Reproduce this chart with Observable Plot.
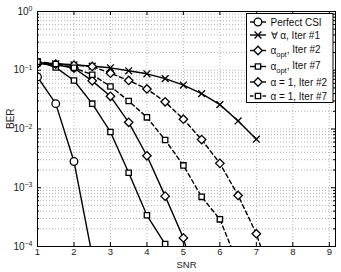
<!DOCTYPE html>
<html><head><meta charset="utf-8">
<script src="https://cdn.jsdelivr.net/npm/d3@7"></script>
<script src="https://cdn.jsdelivr.net/npm/@observablehq/plot@0.6"></script>
<style>body{margin:0;background:#fff}#chart{width:341px;height:272px}</style>
</head><body><div id="chart"></div>
<script>
const snr = [1, 1.5, 2, 2.5, 3, 3.5, 4, 4.5, 5, 5.5, 6, 6.5, 7, 7.5];
const perfectCSI = [0.077, 0.027, 0.0028, 0.00007];
const anyAlphaIter1 = [0.134, 0.129, 0.124, 0.117, 0.110, 0.098, 0.087, 0.072, 0.056, 0.040, 0.026, 0.0137, 0.0067];
const alphaOptIter2 = [0.13, 0.124, 0.109, 0.066, 0.036, 0.013, 0.0035, 0.00072, 0.00014, 0.00001];
const alphaOptIter7 = [0.14, 0.112, 0.067, 0.027, 0.0089, 0.0018, 0.00034, 0.00011, 0.00001];
const alphaOneIter2 = [0.13, 0.127, 0.122, 0.116, 0.089, 0.067, 0.048, 0.029, 0.0147, 0.0066, 0.0026, 0.00074, 0.000165, 0.00002];
const alphaOneIter7 = [0.14, 0.128, 0.11, 0.084, 0.053, 0.030, 0.0158, 0.0065, 0.0024, 0.0007, 0.00029, 0.00005];
const seriesValues = [perfectCSI, anyAlphaIter1, alphaOptIter2, alphaOptIter7, alphaOneIter2, alphaOneIter7];
// legend labels: [main, subscript, rest]
const seriesLabels = [["Perfect CSI", "", ""], ["\u2200 \u03b1, Iter #1", "", ""], ["\u03b1", "opt", ", Iter #2"], ["\u03b1", "opt", ", Iter #7"], ["\u03b1 = 1, Iter #2", "", ""], ["\u03b1 = 1, Iter #7", "", ""]];
const seriesSymbols = ["circle", "times", "diamond2", "square2", "diamond2", "square2"];
const seriesDashed = [false, false, false, false, true, true];
const xTicks = [1, 2, 3, 4, 5, 6, 7, 8, 9];
const yMajor = [1e-4, 1e-3, 1e-2, 1e-1, 1];
const yMinor = [];
for (const p of [-4, -3, -2, -1]) for (let m = 2; m <= 9; m++) yMinor.push(m * Math.pow(10, p));

const symR = {circle: 3.8, times: 3.2, diamond2: 3.8, square2: 3.4};
const rows = [];
seriesValues.forEach((vals, s) => vals.forEach((v, j) => rows.push({s, x: snr[j], y: v})));

const W = 341, H = 272, mL = 37, mR = 6, mT = 11, mB = 26;
const iw = W - mL - mR, ih = H - mT - mB;
const font = "Liberation Sans, Arial, Helvetica, sans-serif";

const marks = [
  Plot.gridX(xTicks, {stroke: "#a0a0a0", strokeOpacity: 1, strokeDasharray: "1,2", strokeWidth: 0.8}),
  Plot.gridY([...yMajor, ...yMinor], {stroke: "#a0a0a0", strokeOpacity: 1, strokeDasharray: "1,2", strokeWidth: 0.8}),
  Plot.tickX(xTicks, {x: d => d, insetTop: ih - 4, stroke: "black"}),
  Plot.tickX(xTicks, {x: d => d, insetBottom: ih - 4, stroke: "black"}),
  Plot.tickY(yMajor, {y: d => d, insetRight: iw - 4, stroke: "black"}),
  Plot.tickY(yMajor, {y: d => d, insetLeft: iw - 4, stroke: "black"}),
  Plot.tickY(yMinor, {y: d => d, insetRight: iw - 2, stroke: "black"}),
  Plot.tickY(yMinor, {y: d => d, insetLeft: iw - 2, stroke: "black"}),
];
seriesValues.forEach((_, s) => {
  const data = rows.filter(r => r.s === s);
  marks.push(Plot.line(data, {x: "x", y: "y", stroke: "black", strokeWidth: 1.4, strokeDasharray: seriesDashed[s] ? "4,3" : null, clip: true}));
});
seriesValues.forEach((_, s) => {
  const data = rows.filter(r => r.s === s);
  marks.push(Plot.dot(data, {x: "x", y: "y", symbol: seriesSymbols[s], r: symR[seriesSymbols[s]], fill: "white", stroke: "black", strokeWidth: 1.3, clip: true}));
});
marks.push(
  Plot.frame({stroke: "black", strokeWidth: 1}),
  Plot.axisX({ticks: xTicks, tickSize: 0, tickPadding: 2, fontSize: 9.5, label: null, tickFormat: d => String(d)}),
  Plot.axisY({ticks: yMajor, tickSize: 0, tickPadding: 5, fontSize: 10, label: null, tickFormat: d => "10|" + Math.round(Math.log10(d))}),
  Plot.text(["SNR"], {frameAnchor: "bottom", dy: 21, fontSize: 9.5, fill: "#222"}),
  Plot.text(["BER"], {frameAnchor: "left", dx: -27, rotate: -90, fontSize: 10, fill: "#222"})
);

const chart = Plot.plot({
  width: W, height: H, marginLeft: mL, marginRight: mR, marginTop: mT, marginBottom: mB,
  style: {fontFamily: font, fontSize: "10px", color: "#222", background: "white"},
  x: {type: "linear", domain: [1, 9.17]},
  y: {type: "log", domain: [1e-4, 1]},
  marks
});
document.getElementById("chart").appendChild(chart);

// superscript exponents on y tick labels
const svg = d3.select(chart);
svg.selectAll('g[aria-label="y-axis tick label"] text').each(function() {
  const t = d3.select(this);
  const parts = this.textContent.split("|");
  if (parts.length !== 2) return;
  t.text(null);
  t.append("tspan").text(parts[0]);
  t.append("tspan").attr("dy", "-0.5em").attr("font-size", "7px").text(parts[1].replace("-", "\u2212"));
});

// legend
const lg = svg.append("g").attr("font-family", font).attr("font-size", "10px").attr("text-anchor", "start");
const bx = 246.5, by = 13.5, bw = 86.5, bh = 89;
lg.append("rect").attr("x", bx).attr("y", by).attr("width", bw).attr("height", bh).attr("fill", "white").attr("stroke", "black").attr("stroke-width", 1);
const rowY = [22, 35, 50.5, 66.5, 82, 96];
seriesLabels.forEach((lab, s) => {
  const y = rowY[s];
  const g = lg.append("g");
  if (seriesDashed[s]) {
    g.append("line").attr("x1", 250).attr("x2", 253.5).attr("y1", y).attr("y2", y).attr("stroke", "black").attr("stroke-width", 1.4);
    g.append("line").attr("x1", 262.5).attr("x2", 266).attr("y1", y).attr("y2", y).attr("stroke", "black").attr("stroke-width", 1.4);
  } else {
    g.append("line").attr("x1", 250).attr("x2", 266).attr("y1", y).attr("y2", y).attr("stroke", "black").attr("stroke-width", 1.4);
  }
  const sym = seriesSymbols[s];
  const r = symR[sym];
  const symObj = {circle: d3.symbolCircle, times: d3.symbolTimes, diamond2: d3.symbolDiamond2, square2: d3.symbolSquare2}[sym];
  g.append("path").attr("d", d3.symbol(symObj, Math.PI * r * r)()).attr("transform", `translate(258,${y})`).attr("fill", "white").attr("stroke", "black").attr("stroke-width", 1.3);
  const t = g.append("text").attr("x", 270.5).attr("y", y).attr("dy", "0.35em").attr("fill", "#111").attr("text-anchor", "start");
  t.append("tspan").text(lab[0]);
  if (lab[1]) {
    t.append("tspan").attr("dy", "0.35em").attr("font-size", "7.5px").text(lab[1]);
    t.append("tspan").attr("dy", "-0.35em").text(lab[2]);
  }
});
</script>
</body></html>
